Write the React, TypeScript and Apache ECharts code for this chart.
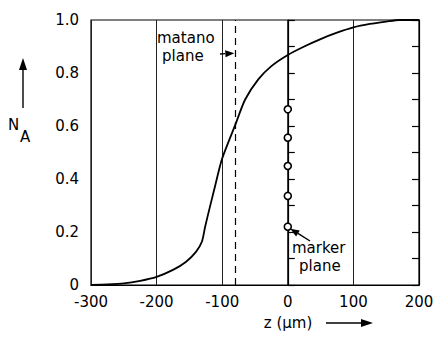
import React, { useEffect, useRef } from "react";
import * as echarts from "echarts";

const zValues = [-300, -275, -250, -225, -200, -175, -155, -140, -131, -126, -119, -112, -101, -88, -80, -65, -45, -25, 0, 25, 50, 75, 100, 125, 150, 170, 200];
const naValues = [0, 0.002, 0.006, 0.016, 0.031, 0.057, 0.088, 0.125, 0.163, 0.22, 0.292, 0.362, 0.47, 0.555, 0.605, 0.7, 0.776, 0.826, 0.868, 0.9, 0.928, 0.952, 0.972, 0.985, 0.994, 1.0, 1.0];
const markerZ = [0, 0, 0, 0, 0];
const markerNA = [0.663, 0.556, 0.449, 0.336, 0.22];
const matanoZ = -80;
const markerPlaneZ = 0;

const FONT = "DejaVu Sans";

export default function App() {
  const ref = useRef<HTMLDivElement>(null);
  useEffect(() => {
    const el = ref.current!;
    const chart = echarts.init(el, null, { renderer: "svg" });
    const axisLineStyle = { color: "#000", width: 1.2 };
    const yBase = {
      type: "value",
      min: 0,
      max: 1,
      interval: 0.2,
      axisLine: { show: true, lineStyle: axisLineStyle },
      axisTick: { show: true, inside: true, length: 7, lineStyle: { color: "#000", width: 1.2 } },
      minorTick: { show: true, splitNumber: 2, length: 7, lineStyle: { color: "#000", width: 1.2 } },
      splitLine: { show: false },
    };
    const option: any = {
      animation: false,
      grid: { left: 91, top: 20, width: 328, height: 265, show: true, borderColor: "#000", borderWidth: 1.2, backgroundColor: "transparent" },
      xAxis: {
        type: "value",
        min: -300,
        max: 200,
        interval: 100,
        axisLine: { show: true, lineStyle: axisLineStyle },
        axisTick: { show: false },
        axisLabel: { color: "#000", fontSize: 15, fontFamily: FONT, margin: 9 },
        splitLine: { show: true, lineStyle: { color: "#222", width: 1 } },
      },
      yAxis: [
        {
          ...yBase,
          position: "left",
          axisLabel: {
            color: "#000",
            fontSize: 15,
            fontFamily: FONT,
            margin: 12,
            formatter: (v: number) => (v === 0 ? "0" : v.toFixed(1)),
          },
        },
        { ...yBase, position: "right", axisLabel: { show: false } },
      ],
      series: [
        {
          type: "line",
          data: zValues.map((z, i) => [z, naValues[i]]),
          smooth: 0.25,
          showSymbol: false,
          lineStyle: { color: "#000", width: 1.8 },
          markLine: {
            silent: true,
            symbol: "none",
            label: { show: false },
            data: [
              { xAxis: matanoZ, lineStyle: { type: [7, 5], color: "#000", width: 1.2 } },
              { xAxis: markerPlaneZ, lineStyle: { type: "solid", color: "#000", width: 1.5 } },
            ],
          },
        },
        {
          type: "scatter",
          data: markerZ.map((z, i) => [z, markerNA[i]]),
          symbol: "circle",
          symbolSize: 7,
          itemStyle: { color: "#fff", borderColor: "#000", borderWidth: 1.6, opacity: 1 },
          z: 5,
        },
      ],
    };
    chart.setOption(option);

    const txt = (x: number, y: number, text: string, size = 14, align = "left") => ({
      type: "text",
      x,
      y,
      style: { text, fill: "#000", fontSize: size, fontFamily: FONT, textAlign: align, textVerticalAlign: "middle" },
    });
    const arrow = (x1: number, y1: number, x2: number, y2: number, head = 10, hw = 3.5) => {
      const dx = x2 - x1, dy = y2 - y1;
      const len = Math.sqrt(dx * dx + dy * dy);
      const ux = dx / len, uy = dy / len;
      const bx = x2 - ux * head, by = y2 - uy * head;
      return [
        { type: "line", shape: { x1, y1, x2: bx, y2: by }, style: { stroke: "#000", lineWidth: 1.4 } },
        {
          type: "polygon",
          shape: { points: [[x2, y2], [bx - uy * hw, by + ux * hw], [bx + uy * hw, by - ux * hw]] },
          style: { fill: "#000" },
        },
      ];
    };
    const mat = chart.convertToPixel({ gridIndex: 0 }, [matanoZ, 0.875]) as number[];
    const mk = chart.convertToPixel({ gridIndex: 0 }, [markerPlaneZ, markerNA[4]]) as number[];
    chart.setOption({
      graphic: [
        txt(157, 38, "matano", 15),
        txt(162, 56, "plane", 15),
        ...arrow(220, 54, mat[0] - 1, mat[1], 9, 3.5),
        txt(292, 248, "marker", 15),
        txt(299, 266, "plane", 15),
        ...arrow(310, 241, mk[0] + 2.5, mk[1] + 2, 9, 3.5),
        txt(8, 125, "N", 15),
        txt(20, 137, "A", 15),
        ...arrow(23, 108, 23, 58, 12, 4),
        txt(288, 323, "z (µm)", 15, "center"),
        ...arrow(326, 323, 373, 323, 12, 4),
      ],
    });
    return () => chart.dispose();
  }, []);
  return <div ref={ref} style={{ position: "fixed", left: 0, top: 0, width: 439, height: 357, background: "#fff" }} />;
}
